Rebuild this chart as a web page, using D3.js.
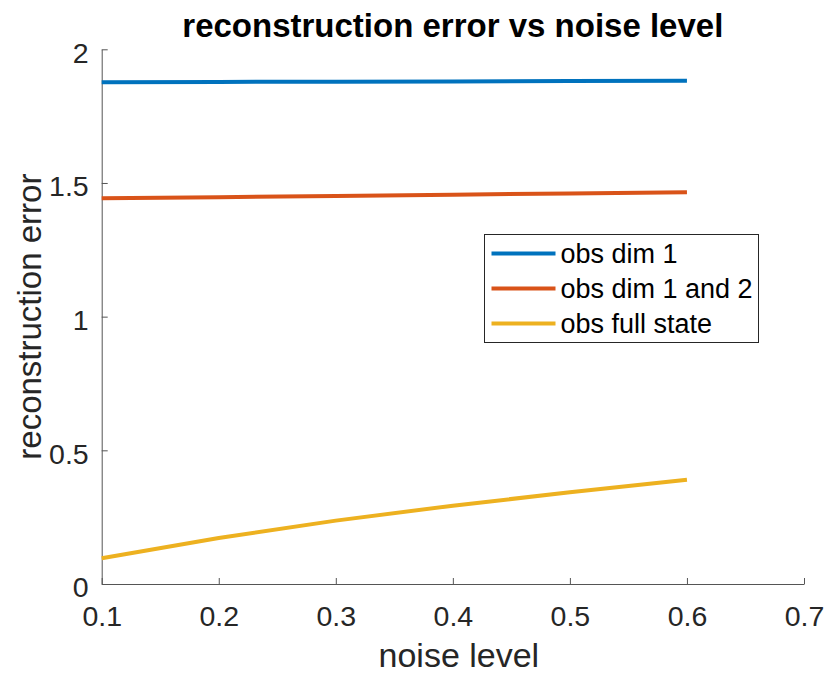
<!DOCTYPE html>
<html>
<head>
<meta charset="utf-8">
<script src="https://cdn.jsdelivr.net/npm/d3@7"></script>
<style>
  html, body { margin: 0; padding: 0; background: #fff; }
  svg { display: block; }
  text { font-family: "Liberation Sans", Arial, Helvetica, sans-serif; }
</style>
</head>
<body>
<svg id="chart" width="828" height="674"></svg>
<script>
// Noise levels tested
const noiseLevels = [0.1, 0.2, 0.3, 0.4, 0.5, 0.6];

// Reconstruction error for each observation setup
const errObsDim1 = [1.877, 1.878, 1.879, 1.880, 1.881, 1.882];
const errObsDim12 = [1.443, 1.447, 1.451, 1.456, 1.461, 1.465];
const errObsFull = [0.096, 0.172, 0.237, 0.293, 0.343, 0.390];

const seriesNames = ["obs dim 1", "obs dim 1 and 2", "obs full state"];
const seriesColors = ["#0072BD", "#D95319", "#EDB120"];

const xTicks = [0.1, 0.2, 0.3, 0.4, 0.5, 0.6, 0.7];
const yTicks = [0, 0.5, 1, 1.5, 2];

const series = [errObsDim1, errObsDim12, errObsFull].map((vals, i) => ({
  name: seriesNames[i],
  color: seriesColors[i],
  points: noiseLevels.map((x, j) => ({ x, y: vals[j] }))
}));

const svg = d3.select("#chart");
const margin = { left: 101.7, right: 828 - 804, top: 49.3, bottom: 674 - 584 };
const W = 828, H = 674;

const x = d3.scaleLinear().domain([0.1, 0.7]).range([margin.left, W - margin.right]);
const y = d3.scaleLinear().domain([0, 2]).range([H - margin.bottom, margin.top]);

const axisColor = "#262626";
const tickFont = 28.5;

// X axis with inward ticks
const xAxis = svg.append("g")
  .attr("transform", `translate(0,${y(0)})`)
  .call(d3.axisBottom(x).tickValues(xTicks).tickFormat(d3.format(".1f")).tickSizeInner(-6).tickSizeOuter(0).tickPadding(22));
xAxis.select(".domain").attr("stroke", "#555").attr("stroke-width", 1);
xAxis.selectAll(".tick line").attr("stroke", "#555");
xAxis.selectAll("text").attr("font-size", tickFont).attr("fill", axisColor)
  .attr("dy", "0.71em");

// Y axis with inward ticks
const yAxis = svg.append("g")
  .attr("transform", `translate(${x(0.1)},0)`)
  .call(d3.axisLeft(y).tickValues(yTicks).tickFormat(d => d3.format("")(d)).tickSizeInner(-6).tickSizeOuter(0).tickPadding(13));
yAxis.select(".domain").attr("stroke", "#555").attr("stroke-width", 1);
yAxis.selectAll(".tick line").attr("stroke", "#555");
yAxis.selectAll("text").attr("font-size", tickFont).attr("fill", axisColor)
  .attr("dy", "0.45em");

// Data lines
const line = d3.line().x(d => x(d.x)).y(d => y(d.y));
svg.append("g").selectAll("path")
  .data(series)
  .join("path")
  .attr("d", d => line(d.points))
  .attr("fill", "none")
  .attr("stroke", d => d.color)
  .attr("stroke-width", 4)
  .attr("stroke-linejoin", "round");

// Title
svg.append("text")
  .attr("x", (x(0.1) + x(0.7)) / 2)
  .attr("y", 37)
  .attr("text-anchor", "middle")
  .attr("font-size", 33)
  .attr("font-weight", "bold")
  .attr("fill", "#000")
  .text("reconstruction error vs noise level");

// Axis labels
svg.append("text")
  .attr("x", (x(0.1) + x(0.7)) / 2 + 6)
  .attr("y", 667)
  .attr("text-anchor", "middle")
  .attr("font-size", 34)
  .attr("fill", axisColor)
  .text("noise level");

svg.append("text")
  .attr("transform", `translate(41,${(y(0) + y(2)) / 2}) rotate(-90)`)
  .attr("text-anchor", "middle")
  .attr("font-size", 33)
  .attr("fill", axisColor)
  .text("reconstruction error");

// Legend
const legend = svg.append("g").attr("transform", "translate(484.5,234.5)");
legend.append("rect")
  .attr("width", 274).attr("height", 108)
  .attr("fill", "#fff")
  .attr("stroke", "#262626").attr("stroke-width", 1);
const rows = legend.selectAll("g.row")
  .data(series)
  .join("g")
  .attr("class", "row")
  .attr("transform", (d, i) => `translate(0,${19 + i * 35})`);
rows.append("line")
  .attr("x1", 7).attr("x2", 71)
  .attr("stroke", d => d.color)
  .attr("stroke-width", 4);
rows.append("text")
  .attr("x", 76)
  .attr("dy", "0.36em")
  .attr("font-size", 27)
  .attr("fill", "#000")
  .text(d => d.name);
</script>
</body>
</html>
